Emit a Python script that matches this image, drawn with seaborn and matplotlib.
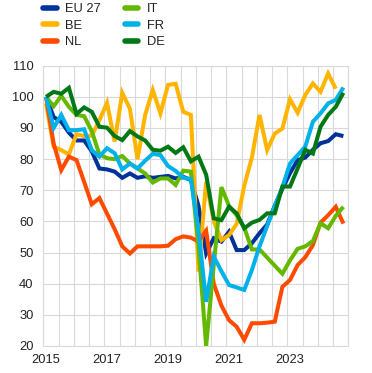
import numpy as np
import pandas as pd
import matplotlib
matplotlib.use("Agg")
import matplotlib.pyplot as plt
from matplotlib.lines import Line2D
import seaborn as sns

# ---- data (quarterly, 2015Q1 onwards) ----
series_names = ["EU 27", "BE", "NL", "IT", "FR", "DE"]
eu27 = [100, 93.5, 92, 88.5, 86, 86, 82.5, 77, 76.7, 76, 74, 75.4, 74, 74.5, 74, 74.3, 74.6, 73.8, 74.3, 73.3,
        65, 49.7, 54.6, 53.5, 56.7, 50.8, 50.8, 53, 56.2, 59, 65, 70.5, 75.5, 79.7, 80.5, 83, 85.1, 85.8, 88, 87.4]
be = [97.9, 84, 82.9, 81.5, 88, 87.4, 87.5, 92.5, 98.1, 85.6, 101.3, 96.2, 80, 94.2, 102.2, 94.7, 103.8, 104.2, 95.2, 94.2,
      43.9, 72.7, 60, 54, 55.6, 59.2, 71.5, 80.5, 94.2, 82.9, 88.2, 89.8, 99.2, 94.9, 100.6, 104.3, 101.6, 107.5, 102.6]
nl = [100, 85, 76.5, 80.8, 79.7, 72.7, 65.5, 67.5, 62.5, 57.5, 52, 49.7, 52, 52, 52, 52, 52.2, 54.3, 55.2, 54.8,
      53.5, 57, 40, 33, 28.3, 26.2, 22, 27.3, 27.3, 27.5, 27.8, 39, 41.2, 46, 48.5, 52.4, 59.6, 62, 64.7, 59.3]
it = [100, 97, 100.3, 96.8, 94.2, 93.8, 89, 81.5, 80.3, 80, 81, 78.6, 77, 75.4, 72.5, 73.8, 73.8, 71.7, 76.3, 76,
      52, 20, 46, 71, 65, 62, 58, 51, 51, 48.4, 45.8, 43.2, 47.5, 51.2, 52, 53.7, 59.4, 57.8, 61.8, 64.7]
fr = [100, 90, 94.2, 89.3, 89.3, 89.6, 82.9, 80.8, 83.5, 81.9, 76.7, 78.6, 77, 79.5, 81.7, 81.3, 77.8, 76.2, 74, 73.6,
      57, 34.2, 48.7, 44, 39.6, 38.8, 38, 44.4, 52, 58.5, 65, 71, 78.6, 81.3, 84, 92, 94.7, 97.9, 99, 103]
de = [100, 101.6, 101, 102.9, 94.5, 96.6, 95.2, 90.4, 90.1, 87.4, 86.1, 89, 87.3, 86, 83, 82.7, 84, 82, 83.8, 79.3,
      80.8, 75, 61, 60.4, 64.7, 62.6, 57.8, 59.6, 60.5, 62.6, 62.6, 71.2, 71.2, 77, 83, 81.8, 90.4, 94.2, 96.8, 101.3]
start_year = 2015
xtick_labels = ["2015", "2017", "2019", "2021", "2023"]
yticks = [20, 30, 40, 50, 60, 70, 80, 90, 100, 110]

colors = {"EU 27": "#003299", "BE": "#FFB400", "NL": "#FF4B00",
          "IT": "#65B800", "FR": "#00B1EA", "DE": "#007816"}

values = {"EU 27": eu27, "BE": be, "NL": nl, "IT": it, "FR": fr, "DE": de}
rows = []
for name in series_names:
    for k, v in enumerate(values[name]):
        rows.append({"date": start_year + k / 4.0, "value": v, "series": name})
df = pd.DataFrame(rows)

sns.set_theme(style="white")
plt.rcParams["font.family"] = ["Liberation Sans", "DejaVu Sans"]

fig = plt.figure(figsize=(3.72, 3.73), dpi=100)
ax = fig.add_axes([43.3 / 372, 1 - 346 / 373, (348.3 - 43.3) / 372, (346 - 65.7) / 373])

lw = 2.9
sns.lineplot(data=df, x="date", y="value", hue="series", hue_order=series_names,
             palette=colors, linewidth=lw, legend=False, ax=ax, estimator=None,
             sort=False)
for line in ax.get_lines():
    line.set_solid_joinstyle("miter")
    line.set_solid_capstyle("butt")

x0 = 2015 - 0.089
ax.set_xlim(x0, x0 + 10)
ax.set_ylim(20, 110)
ax.set_yticks(yticks)
ax.set_yticklabels([str(t) for t in yticks])
ax.set_xticks([int(s) for s in xtick_labels])
ax.set_xticklabels(xtick_labels)
ax.set_xticks([x0 + 0.5 * j for j in range(21)], minor=True)
ax.grid(False)
ax.grid(which="minor", axis="x", color="#d9d9d9", linewidth=0.8)
ax.grid(which="major", axis="y", color="#d9d9d9", linewidth=0.8)
ax.set_axisbelow(True)
for sp in ax.spines.values():
    sp.set_color("#d9d9d9")
    sp.set_linewidth(0.8)
ax.tick_params(which="both", length=0)
ax.tick_params(axis="y", pad=7, labelsize=9.3, labelcolor="#222222")
ax.tick_params(axis="x", pad=6, labelsize=9.3, labelcolor="#222222")
ax.set_xlabel("")
ax.set_ylabel("")

order = ["EU 27", "BE", "NL", "IT", "FR", "DE"]
handles = [Line2D([0], [0], color=colors[n], linewidth=4) for n in order]
fig.legend(handles, order, loc="upper left",
           bbox_to_anchor=(43.3 / 372, 1 - 3.0 / 373), ncol=2, frameon=False,
           fontsize=9.3, handlelength=1.05, handletextpad=0.65, columnspacing=1.85,
           labelspacing=0.36, borderpad=0, borderaxespad=0, labelcolor="#222222")

fig.savefig("out.png", dpi=100)
